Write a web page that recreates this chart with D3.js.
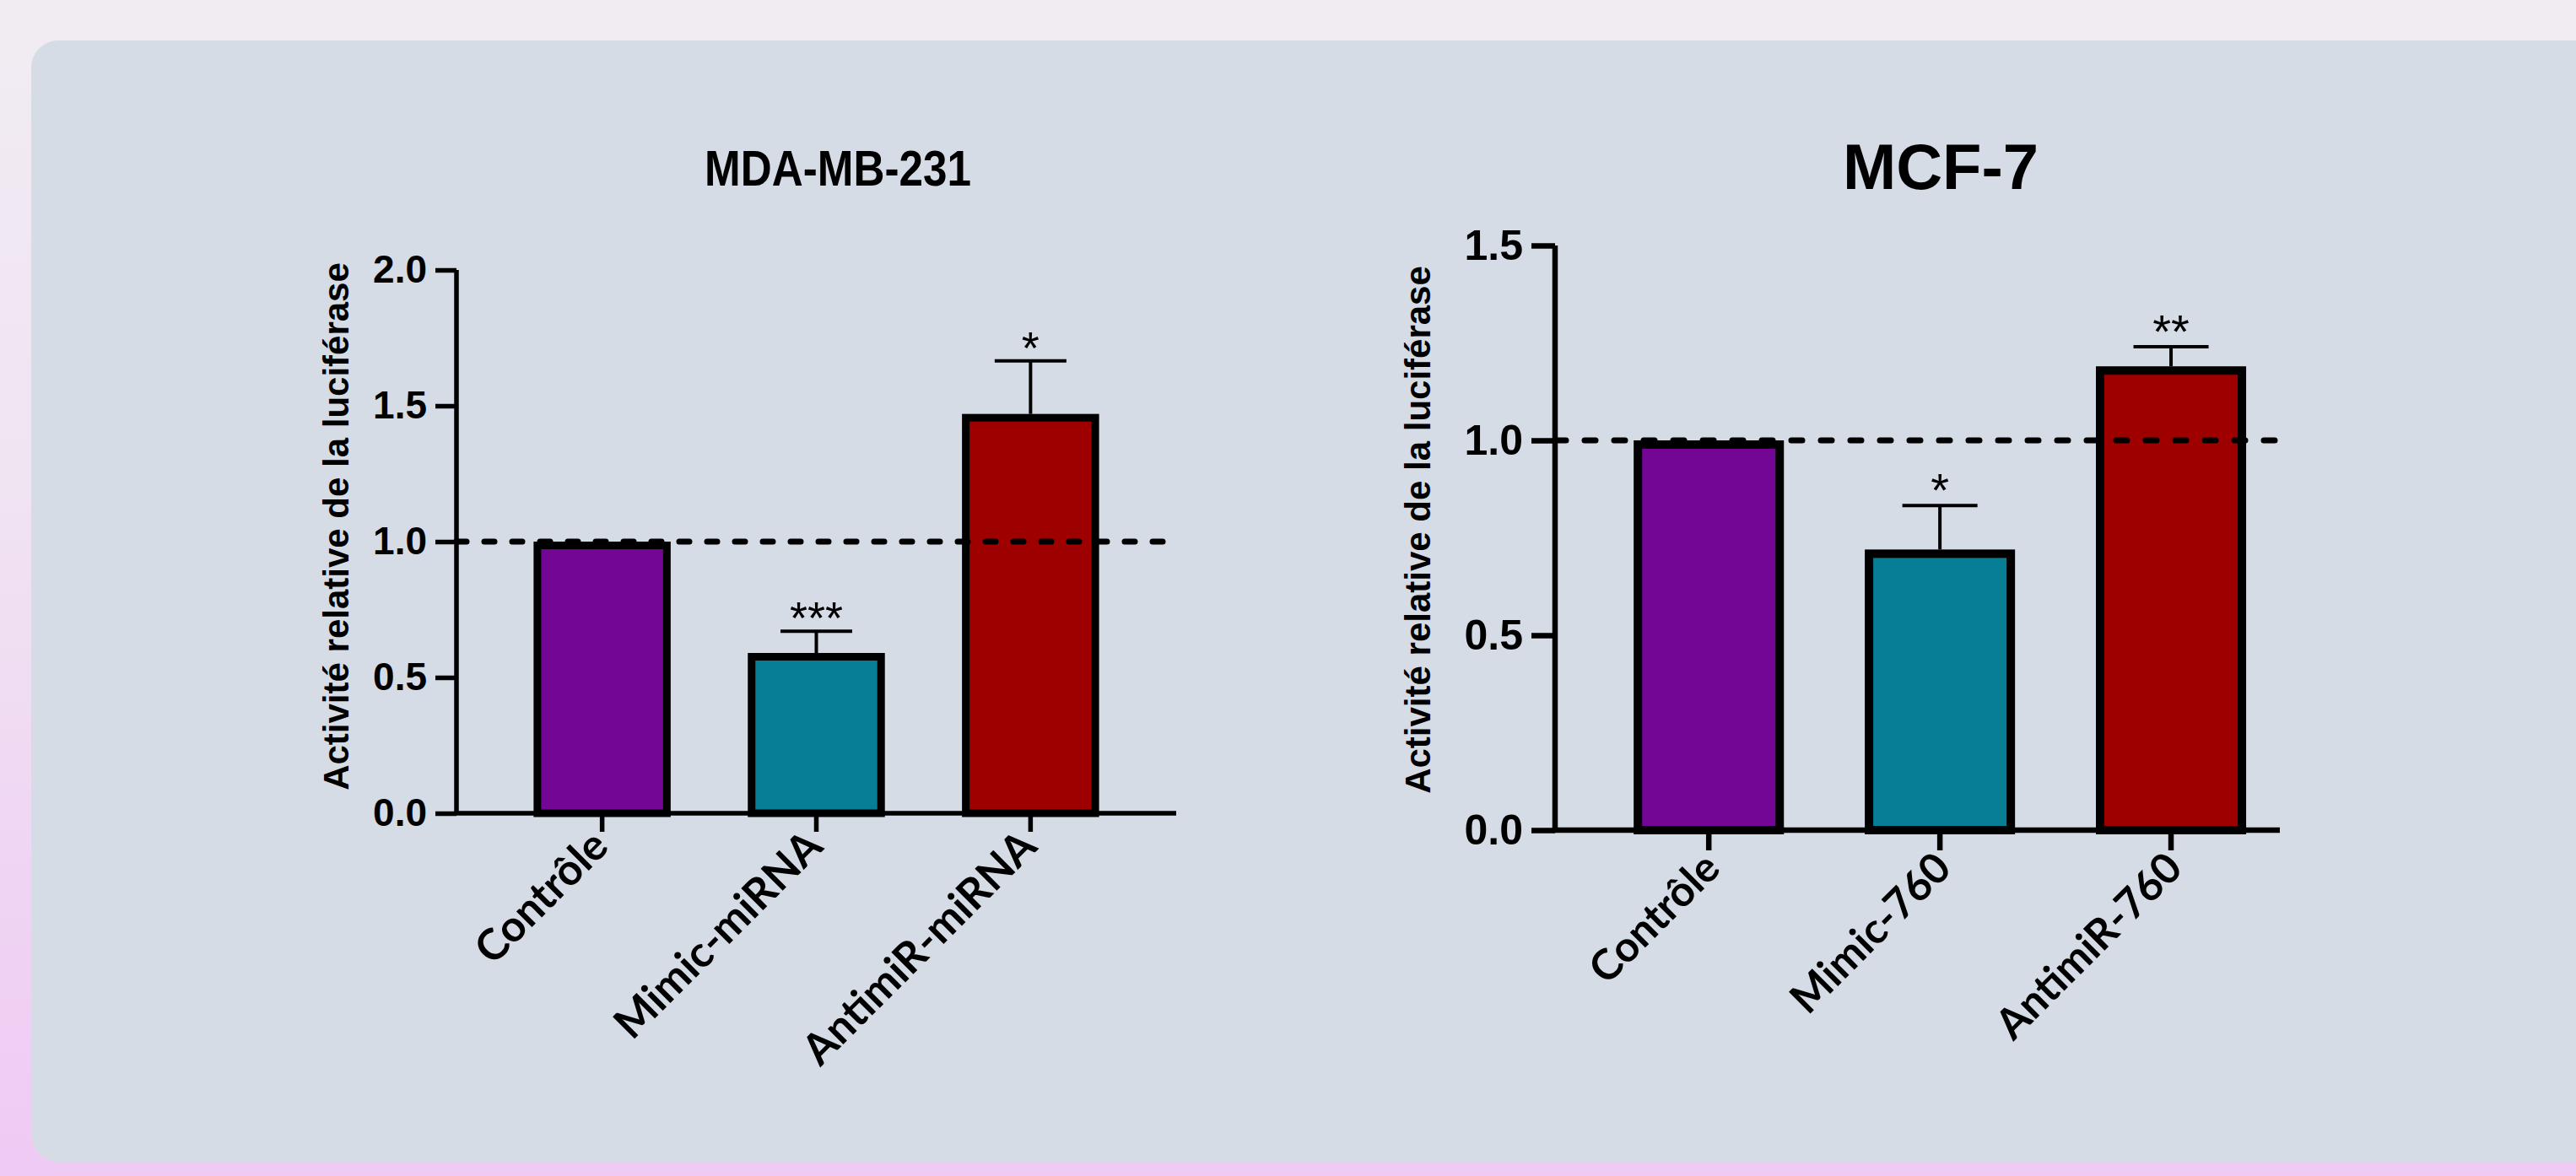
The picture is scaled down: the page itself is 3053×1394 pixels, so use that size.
<!DOCTYPE html>
<html>
<head>
<meta charset="utf-8">
<script src="https://cdn.jsdelivr.net/npm/d3@7"></script>
<style>
	html, body { margin: 0; padding: 0; }
	body {
		width: 3053px; height: 1394px; overflow: hidden;
		background: linear-gradient(#f1ecf2 0%, #f0e4f2 40%, #efcaf4 100%);
	}
	svg { display: block; }
</style>
</head>
<body>
<svg id="fig" width="3053" height="1394"></svg>
<script>
// MDA-MB-231
var mdaCategories = ["Contrôle", "Mimic-miRNA", "AntimiR-miRNA"];
var mdaValues = [1.0, 0.59, 1.47];
var mdaErrors = [0, 0.08, 0.195];
var mdaStars = ["", "***", "*"];
var mdaTicks = [0, 0.5, 1.0, 1.5, 2.0];

// MCF-7
var mcfCategories = ["Contrôle", "Mimic-760", "AntimiR-760"];
var mcfValues = [1.0, 0.72, 1.19];
var mcfErrors = [0, 0.113, 0.05];
var mcfStars = ["", "*", "**"];
var mcfTicks = [0, 0.5, 1.0, 1.5];

var barColors = ["#740696", "#077d96", "#9e0000"];
var yLabel = "Activité relative de la luciférase";

var svg = d3.select("#fig");

// background card
svg.append("rect")
	.attr("x", 37).attr("y", 48)
	.attr("width", 3100).attr("height", 1329)
	.attr("rx", 32).attr("ry", 32)
	.style("fill", "#d5dce6");

function chart(categories, values, errors, stars, ticks, options) {
	var font = "'Liberation Sans', Arial, sans-serif";
	var g = svg.append("g");

	var x = d3.scaleBand()
		.domain(categories)
		.range(options.xRange)
		.paddingInner(options.inner)
		.paddingOuter(options.outer)
		.align(options.align);

	var y = d3.scaleLinear()
		.domain([0, d3.max(ticks)])
		.range(options.yRange);

	var rows = categories.map(function(c, i) {
		return {name: c, value: values[i], err: errors[i], star: stars[i], color: barColors[i]};
	});

	// title
	var title = g.append("text")
		.attr("x", options.titleX)
		.attr("y", options.titleY)
		.attr("text-anchor", "middle")
		.style("font-family", font)
		.style("font-weight", "bold")
		.style("font-size", options.titleSize + "px")
		.text(options.title);
	if (options.titleLength) {
		title.attr("textLength", options.titleLength).attr("lengthAdjust", "spacingAndGlyphs");
	}

	// bars (border drawn inside the bar)
	var sw = options.barStroke;
	g.append("g").selectAll("rect")
			.data(rows)
		.enter().append("rect")
			.attr("x", function(d) { return x(d.name) + sw / 2; })
			.attr("y", function(d) { return y(d.value) + sw / 2; })
			.attr("width", x.bandwidth() - sw)
			.attr("height", function(d) { return y(0) - y(d.value) - sw / 2; })
			.style("fill", function(d) { return d.color; })
			.style("stroke", "#000")
			.style("stroke-width", sw);

	// error bars (upper only)
	var eb = g.append("g").selectAll("g")
			.data(rows.filter(function(d) { return d.err > 0; }))
		.enter().append("g");
	eb.append("line")
		.attr("x1", function(d) { return x(d.name) + x.bandwidth() / 2; })
		.attr("x2", function(d) { return x(d.name) + x.bandwidth() / 2; })
		.attr("y1", function(d) { return y(d.value); })
		.attr("y2", function(d) { return y(d.value + d.err); })
		.style("stroke", "#000").style("stroke-width", 4);
	eb.append("line")
		.attr("x1", function(d) { return x(d.name) + x.bandwidth() / 2 - options.capW / 2; })
		.attr("x2", function(d) { return x(d.name) + x.bandwidth() / 2 + options.capW / 2; })
		.attr("y1", function(d) { return y(d.value + d.err); })
		.attr("y2", function(d) { return y(d.value + d.err); })
		.style("stroke", "#000").style("stroke-width", 4);

	// significance stars
	g.append("g").selectAll("text")
			.data(rows.filter(function(d) { return d.star; }))
		.enter().append("text")
			.attr("x", function(d) { return x(d.name) + x.bandwidth() / 2; })
			.attr("y", function(d) { return y(d.value + d.err) + options.starDy; })
			.attr("text-anchor", "middle")
			.style("font-family", font)
			.style("font-size", options.starSize + "px")
			.text(function(d) { return d.star; });

	// dashed reference line at 1.0
	g.append("line")
		.attr("x1", options.xRange[0])
		.attr("x2", options.xRange[1])
		.attr("y1", y(1)).attr("y2", y(1))
		.style("stroke", "#000")
		.style("stroke-width", 7)
		.style("stroke-linecap", "round")
		.style("stroke-dasharray", options.dash);

	// y axis
	var yAxis = g.append("g")
		.attr("transform", "translate(" + options.xRange[0] + ",0)")
		.call(d3.axisLeft(y).tickValues(ticks).tickFormat(d3.format(".1f"))
			.tickSize(options.tickLen).tickPadding(10));
	yAxis.select(".domain").attr("d", "M0," + y(d3.max(ticks)) + "V" + y(0))
		.style("stroke-width", options.axisStroke);
	yAxis.selectAll(".tick line").style("stroke-width", options.axisStroke);
	yAxis.selectAll(".tick text")
		.style("font-family", font)
		.style("font-weight", "bold")
		.style("font-size", options.tickSize + "px")
		.style("fill", "#000");

	// x axis
	var xAxis = g.append("g")
		.attr("transform", "translate(0," + y(0) + ")")
		.call(d3.axisBottom(x).tickSize(options.xTickLen).tickPadding(0));
	xAxis.select(".domain")
		.attr("d", "M" + (options.xRange[0] - options.axisStroke / 2) + ",0H" + options.xRange[1])
		.style("stroke-width", options.axisStroke);
	xAxis.selectAll(".tick line").style("stroke-width", options.axisStroke);
	xAxis.selectAll(".tick text")
		.attr("y", 0).attr("dy", 0)
		.attr("transform", "translate(" + options.labelDx + "," + options.labelDy + ") rotate(-45)")
		.attr("text-anchor", "end")
		.style("font-family", "Lato, 'Open Sans', sans-serif")
		.style("font-weight", "bold")
		.style("font-size", options.xLabelSize + "px")
		.style("fill", "#000");

	// y axis title
	g.append("text")
		.attr("transform", "translate(" + options.yLabelX + "," + options.yLabelY + ") rotate(-90)")
		.attr("text-anchor", "middle")
		.style("font-family", font)
		.style("font-weight", "bold")
		.style("font-size", "42px")
		.text(yLabel);
}

chart(mdaCategories, mdaValues, mdaErrors, mdaStars, mdaTicks, {
	title: "MDA-MB-231", titleX: 993, titleY: 220, titleSize: 60, titleLength: 316,
	xRange: [541, 1394], inner: 0.36, outer: 0.36, align: 0.5,
	yRange: [964, 320],
	barStroke: 9, axisStroke: 5.5, tickLen: 25, xTickLen: 22, tickSize: 46,
	capW: 85, starSize: 54, starDy: 3,
	dash: "12 21", labelDx: 10, labelDy: 42, xLabelSize: 51,
	yLabelX: 413, yLabelY: 624
});

chart(mcfCategories, mcfValues, mcfErrors, mcfStars, mcfTicks, {
	title: "MCF-7", titleX: 2300, titleY: 224, titleSize: 76,
	xRange: [1843, 2702], inner: 0.35, outer: 0.243, align: 0.7,
	yRange: [984, 291],
	barStroke: 10, axisStroke: 6.5, tickLen: 28, xTickLen: 24, tickSize: 50,
	capW: 89, starSize: 56, starDy: 1,
	dash: "13 22", labelDx: 16, labelDy: 48, xLabelSize: 50,
	yLabelX: 1695, yLabelY: 628
});
</script>
</body>
</html>
